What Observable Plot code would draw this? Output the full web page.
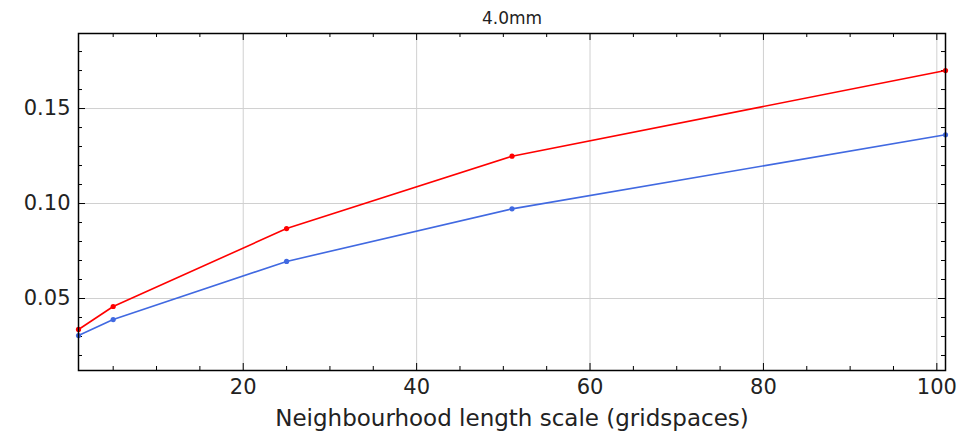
<!DOCTYPE html>
<html>
<head>
<meta charset="utf-8">
<script src="https://cdn.jsdelivr.net/npm/d3@7"></script>
<script src="https://cdn.jsdelivr.net/npm/@observablehq/plot@0.6"></script>
<style>
  html, body { margin: 0; padding: 0; background: #fff; }
  svg { font-family: "DejaVu Sans", sans-serif; }
</style>
</head>
<body>
<div id="chart"></div>
<script>
const title = "4.0mm";
const xLabel = "Neighbourhood length scale (gridspaces)";
const scales = [1, 5, 25, 51, 101];
const redSeries = [0.0337, 0.0458, 0.0868, 0.1249, 0.1700];
const blueSeries = [0.0305, 0.0389, 0.0695, 0.0972, 0.1362];
const xMajor = [20, 40, 60, 80, 100];
const xMinor = [5, 10, 15, 25, 30, 35, 45, 50, 55, 65, 70, 75, 85, 90, 95];
const yMajor = [0.05, 0.10, 0.15];
const yMinor = [0.02, 0.03, 0.04, 0.06, 0.07, 0.08, 0.09, 0.11, 0.12, 0.13, 0.14, 0.16, 0.17, 0.18];

const redColor = "#ff0000";
const blueColor = "#4169e1";

const width = 958, height = 439;
const mL = 78, mR = 13, mT = 33, mB = 69;
const plotW = width - mL - mR, plotH = height - mT - mB;
const major = 7, minor = 4;

const data = [
  ...scales.map((s, i) => ({x: s, y: redSeries[i], s: "red"})),
  ...scales.map((s, i) => ({x: s, y: blueSeries[i], s: "blue"}))
];

const chart = Plot.plot({
  width, height,
  marginLeft: mL, marginRight: mR, marginTop: mT, marginBottom: mB,
  style: {fontFamily: "DejaVu Sans, sans-serif", background: "#fff", overflow: "visible"},
  x: {domain: [1, 101]},
  y: {domain: [0.0121, 0.1895]},
  marks: [
    Plot.gridX(xMajor, {stroke: "#d0d0d0", strokeOpacity: 1, strokeWidth: 1}),
    Plot.gridY(yMajor, {stroke: "#d0d0d0", strokeOpacity: 1, strokeWidth: 1}),
    // inward ticks bottom/top
    Plot.tickX(xMajor, {x: d => d, insetTop: plotH - major, stroke: "#000"}),
    Plot.tickX(xMajor, {x: d => d, insetBottom: plotH - major, stroke: "#000"}),
    Plot.tickX(xMinor, {x: d => d, insetTop: plotH - minor, stroke: "#000"}),
    Plot.tickX(xMinor, {x: d => d, insetBottom: plotH - minor, stroke: "#000"}),
    // inward ticks left/right
    Plot.tickY(yMajor, {y: d => d, insetRight: plotW - major, stroke: "#000"}),
    Plot.tickY(yMajor, {y: d => d, insetLeft: plotW - major, stroke: "#000"}),
    Plot.tickY(yMinor, {y: d => d, insetRight: plotW - minor, stroke: "#000"}),
    Plot.tickY(yMinor, {y: d => d, insetLeft: plotW - minor, stroke: "#000"}),
    Plot.axisX(xMajor, {tickSize: 0, tickPadding: 9, fontSize: 21, label: null, fill: "#222"}),
    Plot.axisY(yMajor, {tickSize: 0, tickPadding: 8, fontSize: 21, label: null, tickFormat: d3.format(".2f"), fill: "#222"}),
    Plot.line(data, {x: "x", y: "y", z: "s", stroke: d => d.s === "red" ? redColor : blueColor, strokeWidth: 1.6}),
    Plot.dot(data, {x: "x", y: "y", r: 2.6, fill: d => d.s === "red" ? redColor : blueColor, stroke: "none"}),
    Plot.frame({stroke: "#000", strokeWidth: 1.5}),
    Plot.text([title], {frameAnchor: "top", lineAnchor: "middle", dy: -15, fontSize: 17, fill: "#222"}),
    Plot.text([xLabel], {frameAnchor: "bottom", dy: 55, fontSize: 23, fill: "#222"})
  ]
});
document.getElementById("chart").appendChild(chart);
</script>
</body>
</html>
